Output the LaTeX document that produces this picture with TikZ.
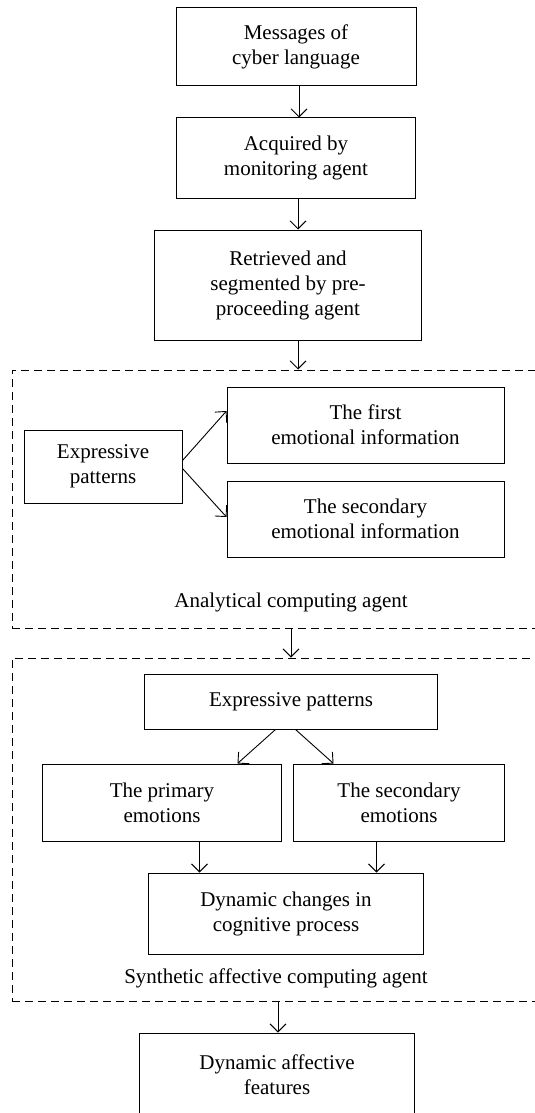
\documentclass[tikz,border=0pt]{standalone}
\usepackage{fontspec}
\setmainfont{Liberation Serif}
\usetikzlibrary{arrows.meta}
\tikzset{
	block/.style   = {draw, fill=white, rectangle, line width=1pt, align=center, inner sep=2pt, font=\fontsize{21}{25}\selectfont},
	agent/.style   = {draw, rectangle, line width=1pt, dash pattern=on 8pt off 5pt},
	caption/.style = {align=center, inner sep=0pt, font=\fontsize{21}{25}\selectfont},
}

\begin{document}
\begin{tikzpicture}[>={Straight Barb[length=8pt,width=16pt]}, line width=0.9pt]
	\useasboundingbox (0,0) rectangle (535pt,-1113pt);
	\clip (0,0) rectangle (535pt,-1113pt);

	% Draw the agents and their blocks
	\draw
	node[block, minimum width=240pt, minimum height=78pt] (messages) at (296pt,-47pt) {Messages of\\cyber language}
	node[block, below of = messages , node distance=111pt, minimum width=239pt, minimum height=80pt] (acquired) {Acquired by\\monitoring agent}
	node[block, below of = acquired , node distance=127pt, xshift=-8pt, minimum width=267pt, minimum height=110pt] (retrieved) {Retrieved and\\segmented by pre-\\proceeding agent}
	node[agent, below of = retrieved, node distance=214pt, xshift=-8pt, minimum width=536pt, minimum height=258pt] (analytical) {}
	node[block, right of = analytical, node distance=85.5pt, yshift=74pt, minimum width=277pt, minimum height=76pt] (firstinfo) {The first\\emotional information}
	node[block, below of = firstinfo, node distance=94pt, minimum width=277pt, minimum height=76pt] (secondinfo) {The secondary\\emotional information}
	node[block, left of = firstinfo , node distance=262.5pt, yshift=-41.5pt, minimum width=158pt, minimum height=73pt] (expressive) {Expressive\\patterns}
	node[caption, below of = analytical, node distance=103pt, xshift=11pt] (analyticallabel) {Analytical computing agent}
	node[agent, below of = analytical, node distance=330.5pt, minimum width=536pt, minimum height=343pt] (synthetic) {}
	node[block, below of = analyticallabel, node distance=99.5pt, minimum width=293pt, minimum height=55pt] (patterns) {Expressive patterns}
	node[block, below of = patterns , node distance=101pt, xshift=-129pt, minimum width=239pt, minimum height=77pt] (primary) {The primary\\emotions}
	node[block, right of = primary  , node distance=237pt, minimum width=211pt, minimum height=77pt] (secondary) {The secondary\\emotions}
	node[block, below of = patterns , node distance=212pt, xshift=-5pt, minimum width=275pt, minimum height=81pt] (changes) {Dynamic changes in\\cognitive process}
	node[caption, below of = changes, node distance=64.5pt, xshift=-10pt] (syntheticlabel) {Synthetic affective computing agent}
	node[block, below of = changes  , node distance=161.5pt, xshift=-9pt, minimum width=275pt, minimum height=84pt] (features) {Dynamic affective\\features};

	% Connect everything together
	\draw[->] ([xshift=3pt]messages.south) -- ([xshift=3pt]messages.south |- acquired.north);
	\draw[->] ([xshift=2pt]acquired.south) -- ([xshift=2pt]acquired.south |- retrieved.north);
	\draw[->] ([xshift=10pt]retrieved.south) -- ([xshift=10pt]retrieved.south |- analytical.north);
	\draw[->] ([yshift=6pt]expressive.east) -- ([yshift=14pt]firstinfo.west);
	\draw[->] ([yshift=-2pt]expressive.east) -- ([yshift=2pt]secondinfo.west);
	\draw[->] ([xshift=11pt]analytical.south) -- ([xshift=11pt]analytical.south |- synthetic.north);
	\draw[->] ([xshift=-15.5pt]patterns.south) -- ([xshift=75.5pt]primary.north);
	\draw[->] ([xshift=4.5pt]patterns.south) -- ([xshift=-65.5pt]secondary.north);
	\draw[->] ([xshift=37.5pt]primary.south) -- ([xshift=37.5pt]primary.south |- changes.north);
	\draw[->] ([xshift=-22.5pt]secondary.south) -- ([xshift=-22.5pt]secondary.south |- changes.north);
	\draw[->] ([xshift=-2pt]synthetic.south) -- ([xshift=-2pt]synthetic.south |- features.north);
\end{tikzpicture}
\end{document}
